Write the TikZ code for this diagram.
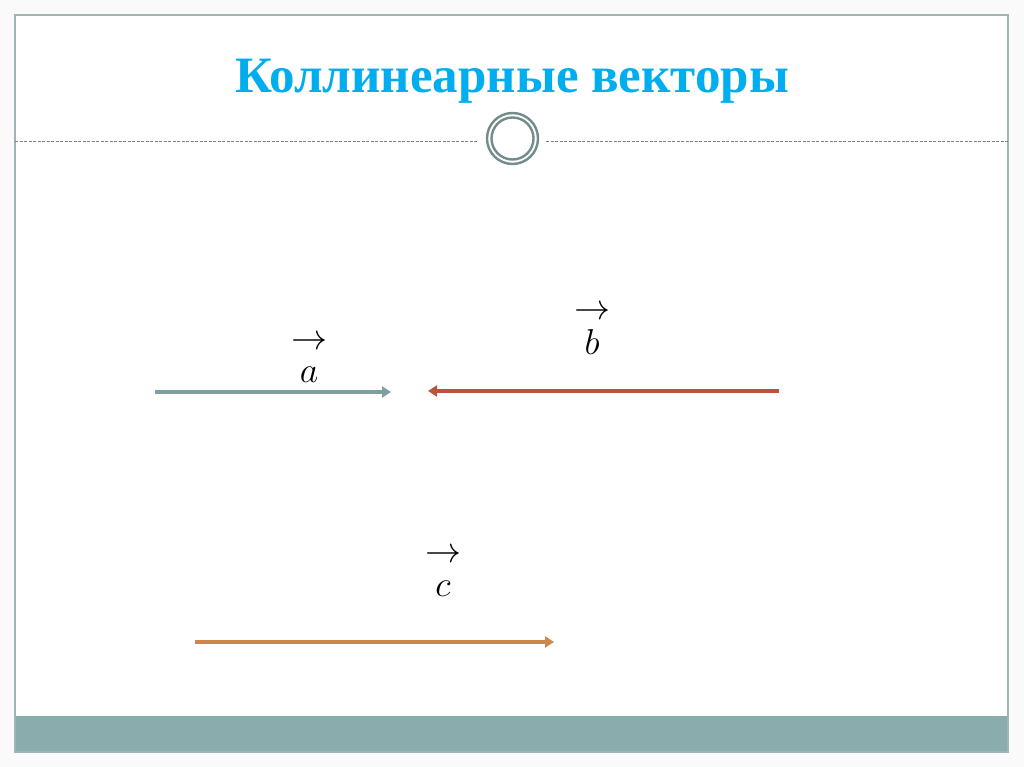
\RequirePackage{fix-cm}
\documentclass[tikz,border=0pt]{standalone}
\usepackage{amsmath,amssymb}
\usepackage{fontspec}
\setmainfont{Liberation Serif}
\usepackage{tikz}
\usetikzlibrary{arrows.meta}

\definecolor{titleblue}{RGB}{0,174,239}
\definecolor{frame}{RGB}{160,180,182}
\definecolor{bar}{RGB}{138,172,172}
\definecolor{ring}{RGB}{114,140,140}
\definecolor{veca}{RGB}{127,158,160}
\definecolor{vecb}{RGB}{192,80,62}
\definecolor{vecc}{RGB}{205,135,72}

\tikzset{
	vec/.style = {line width = 3.5pt, -{Triangle[length=9pt,width=11pt]}},
	veclabel/.style = {inner sep = 0pt, font = \fontsize{36}{36}\selectfont}
}

\begin{document}
\begin{tikzpicture}[x = 1pt, y = -1pt]
	\useasboundingbox (0,0) rectangle (1024,767);
	\fill [black!2] (0,0) rectangle (1024,767);
	\fill [white] (15,15) rectangle (1008,752);
	\fill [bar] (15,716) rectangle (1008,752);
	\draw [frame, line width = 1.5pt] (15,15) rectangle (1008,752);
	% title
	\node [anchor = base, text = titleblue, font = \fontsize{51}{51}\selectfont\bfseries] (title) at (512,93) {Коллинеарные векторы};
	\draw [gray, dash pattern = on 3pt off 1.5pt, line width = 0.6pt] (15,141.5) -- (478,141.5);
	\draw [gray, dash pattern = on 3pt off 1.5pt, line width = 0.6pt] (546,141.5) -- (1008,141.5);
	\node [circle, draw = ring, line width = 2.4pt, minimum size = 51pt, inner sep = 0pt] (ringout) at (512.5,138.5) {};
	\node [circle, draw = ring, line width = 2.4pt, minimum size = 42pt, inner sep = 0pt] (ringin) at (512.5,138.5) {};
	% vectors
	\coordinate (a1) at (155,392);
	\coordinate (a2) at (391,392);
	\coordinate (b1) at (779,391);
	\coordinate (b2) at (428,391);
	\coordinate (c1) at (195,642);
	\coordinate (c2) at (554,642);
	\draw [vec, veca] (a1) -- (a2);
	\draw [vec, vecb] (b1) -- (b2);
	\draw [vec, vecc] (c1) -- (c2);
	% labels
	\node [veclabel] (aarr) at (309,343) {$\rightarrow$};
	\node [veclabel, anchor = base] (alab) at (309,382) {$a$};
	\node [veclabel] (barr) at (592,313) {$\rightarrow$};
	\node [veclabel, anchor = base] (blab) at (592,354) {$b$};
	\node [veclabel] (carr) at (443,556) {$\rightarrow$};
	\node [veclabel, anchor = base] (clab) at (443,596) {$c$};
\end{tikzpicture}
\end{document}
